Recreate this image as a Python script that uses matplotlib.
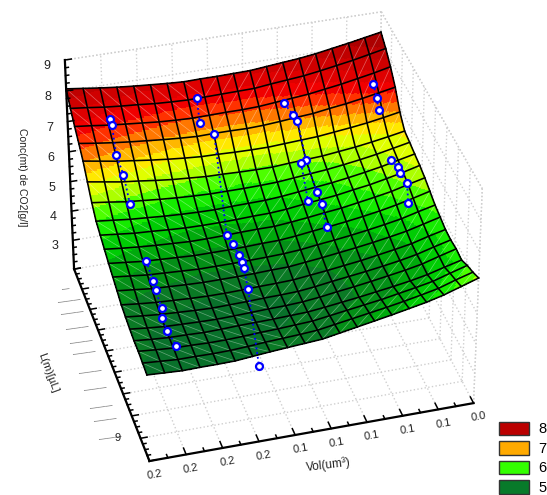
import numpy as np, matplotlib
matplotlib.use('Agg')
import matplotlib.pyplot as plt
from matplotlib.colors import LinearSegmentedColormap
from matplotlib.patches import Patch
from mpl_toolkits.mplot3d import proj3d
from mpl_toolkits.mplot3d.art3d import Line3DCollection

# ---- data ----
x_tick_values = [0.0, 0.025, 0.05, 0.075, 0.1, 0.125, 0.15, 0.175, 0.2, 0.225]
x_tick_labels = ['0.0', '0.1', '0.1', '0.1', '0.1', '0.1', '0.2', '0.2', '0.2', '0.2']
y_tick_values = [0, 1, 2, 3, 4, 5, 6, 7, 8, 9]
y_label_values = [1.0, 1.6, 2.2, 2.9, 3.6, 4.1, 5.0, 5.8, 6.6, 7.2, 8.0]
z_tick_values = [3, 4, 5, 6, 7, 8, 9]
legend_labels = ['8', '7', '6', '5']
legend_colors = ['#bb0000', '#ffaa00', '#33ff00', '#087a2a']
# surface height x100: rows run along y (back to front), columns along x (right to left)
surface_z = [
[834,824,814,805,796,789,784,779,774,773,772,772,771,774,778,782,787,793,800,807],
[809,798,787,778,769,761,756,751,745,744,743,742,741,743,746,751,755,760,767,773],
[778,766,756,746,738,730,725,720,715,713,713,712,711,713,716,721,726,731,738,744],
[740,730,720,711,704,696,692,687,683,681,682,682,681,684,688,693,698,704,711,719],
[688,678,669,662,656,650,647,644,641,641,642,644,645,649,654,660,667,674,683,692],
[655,645,636,628,622,616,613,610,606,606,607,609,610,614,618,624,631,637,646,655],
[648,637,626,617,609,602,597,592,587,585,584,584,584,586,589,593,598,603,611,618],
[640,628,616,606,597,589,583,577,571,567,566,565,563,564,566,569,573,577,583,589],
[633,619,607,596,588,579,573,567,560,556,555,553,552,552,553,556,560,563,569,575],
[623,610,596,586,577,568,562,555,549,544,544,543,541,540,540,543,546,550,555,561],
[610,596,583,572,563,555,548,542,535,530,529,527,526,526,526,529,532,535,541,547],
[596,583,569,559,550,542,535,529,522,518,516,515,514,514,514,517,520,523,529,535],
[588,574,560,550,541,533,526,519,513,507,506,504,503,503,503,505,508,511,517,523],
[579,566,551,541,532,523,516,509,503,497,495,494,492,491,491,493,496,499,504,510],
[577,563,548,537,528,520,513,506,498,492,490,489,487,486,485,487,490,493,498,504],
[580,565,549,538,529,520,512,505,497,491,488,487,485,483,482,483,485,487,492,498],
[576,562,547,536,527,519,511,504,497,491,489,487,486,485,483,482,484,485,489,494],
[591,575,558,547,537,527,519,511,503,495,492,489,487,484,482,482,484,485,489,494],
[602,586,568,556,545,535,526,517,508,499,495,492,489,485,482,481,482,482,486,490],
[616,598,580,566,555,544,534,524,514,504,500,496,492,487,482,481,481,480,483,486],
]
point_groups = [
 [[0.199,0.789,7.397],[0.199,0.947,7.299],[0.201,1.737,6.84],[0.199,2.211,6.485],[0.199,2.921,5.982]],
 [[0.199,4.737,5.347],[0.199,5.447,5.168],[0.199,5.763,5.087],[0.199,6.395,4.954],[0.201,6.789,4.92],[0.201,7.342,4.889],[0.199,7.974,4.85]],
 [[0.136,0.474,7.413],[0.138,1.105,7.013]],
 [[0.13,1.421,6.816],[0.14,4.263,5.399],[0.138,4.579,5.309],[0.136,4.974,5.204],[0.136,5.211,5.143],[0.136,5.447,5.09],[0.138,6.158,4.927],[0.137,7.10,3.02]],
 [[0.077,1.026,7.17],[0.073,1.342,6.964]],
 [[0.071,1.5,6.841],[0.071,2.368,6.13],[0.071,3.474,5.792],[0.071,3.947,5.691],[0.073,4.737,5.47]],
 [[0.075,2.447,6.092],[0.079,3.711,5.703]],
 [[0.014,1.184,7.462],[0.014,1.5,7.194],[0.014,1.737,6.937]],
 [[0.016,3.237,6.253],[0.014,3.553,6.216],[0.014,3.789,6.173],[0.012,4.184,6.113],[0.016,4.816,5.893]],
]
band_anchors = [(4.2,'#06563c'),(5,'#0a7a25'),(5.3,'#009a10'),(5.7,'#00dd00'),(5.95,'#33ff00'),(6.2,'#aaff00'),
                (6.5,'#ffff00'),(6.85,'#ffaa00'),(7.05,'#ff6600'),(7.25,'#ff2000'),(7.4,'#f00000'),(8,'#c00000'),(8.5,'#900000')]

# ---- figure and camera ----
W, H = 547, 495
plt.rcParams['font.family'] = ['Liberation Sans', 'DejaVu Sans']
fig = plt.figure(figsize=(W/100, H/100), dpi=100)
ax = fig.add_axes([0, 0, 1, 1], projection='3d', computed_zorder=False)
XM, YM, ZL, ZH = 0.225, 9.0, 2.0, 9.0
ax.set_xlim(0, XM); ax.set_ylim(0, YM); ax.set_zlim(ZL, ZH)
ax.view_init(35.837, 74.558, 0.197)
ax.set_proj_type('persp', focal_length=1.24)
ax.set_box_aspect((1.273, 1.253, 1))
ax.set_axis_off(); ax.patch.set_visible(False)
S, TX, TY = 2804.8, 268.3, H-230.8
ax.apply_aspect()
tr = ax.transData
s_now = (tr.transform((0.01, 0))-tr.transform((0, 0)))[0]/0.01
L = H*S/s_now
ax.set_position([0, 0, L/W, L/H]); ax.apply_aspect()
o = ax.transData.transform((0, 0))
ax.set_position([(TX-o[0])/W, (TY-o[1])/H, L/W, L/H]); ax.apply_aspect()
ax.M = ax.get_proj()

def px(x, y, z):
    a, b, _ = proj3d.proj_transform(np.array([x], float), np.array([y], float), np.array([z], float), ax.M)
    p = ax.transData.transform((a[0], b[0]))
    return p[0], p[1]

def label(x, y, z, dx, dy, s, **k):
    a, b = px(x, y, z)
    fig.text((a+dx)/W, (b-dy)/H, s, ha='center', va='center', **k)

Z = np.array(surface_z)/100.0
n = Z.shape[0]
xg = np.linspace(0, XM, n); yg = np.linspace(0, YM, n)

def refine(A, k=12):
    m = (n-1)*k+1
    tt = np.linspace(0, n-1, m)
    i = np.clip(tt.astype(int), 0, n-2); f = tt-i
    A2 = A[i, :]*(1-f)[:, None]+A[i+1, :]*f[:, None]
    return A2[:, i]*(1-f)+A2[:, i+1]*f

Zf = refine(Z)
Xf, Yf = np.meshgrid(np.linspace(0, XM, Zf.shape[1]), np.linspace(0, YM, Zf.shape[0]))
a0, a1 = band_anchors[0][0], band_anchors[-1][0]
cm = LinearSegmentedColormap.from_list('bands', [((a-a0)/(a1-a0), c) for a, c in band_anchors])
fc = cm((np.round(Zf/0.2)*0.2-a0)/(a1-a0))

# ---- grid on the walls and floor ----
gk = dict(color='#cfcfcf', ls=':', lw=1.0, zorder=1)
for x in x_tick_values:
    ax.plot([x, x], [0, YM], [ZL, ZL], **gk); ax.plot([x, x], [0, 0], [ZL, ZH], **gk)
for y in y_tick_values:
    ax.plot([0, XM], [y, y], [ZL, ZL], **gk); ax.plot([0, 0], [y, y], [ZL, ZH], **gk)
for z in z_tick_values:
    ax.plot([0, XM], [0, 0], [z, z], **gk); ax.plot([0, 0], [0, YM], [z, z], **gk)
ax.plot([0, XM], [0, 0], [ZH, ZH], **gk); ax.plot([0, 0], [0, YM], [ZH, ZH], **gk)
ax.plot([0, 0], [YM, YM], [ZL, ZH], **gk)

# ---- surface ----
ax.plot_surface(Xf, Yf, Zf, facecolors=fc, rstride=1, cstride=1, shade=False,
                linewidth=0, antialiased=False, zorder=2)
seg = []
for j in range(n-1):
    for i in range(n-1):
        if xg[i] > 0.55*XM:
            seg.append([(xg[i+1], yg[j], Z[j, i+1]), (xg[i], yg[j+1], Z[j+1, i])])
        else:
            seg.append([(xg[i], yg[j], Z[j, i]), (xg[i+1], yg[j+1], Z[j+1, i+1])])
ax.add_collection3d(Line3DCollection(seg, colors=[(1, 1, 1, .38)], linewidths=.5, zorder=3))
for i in range(n):
    ax.plot(xg, [yg[i]]*n, Z[i, :], color='k', lw=1.15, zorder=4)
    ax.plot([xg[i]]*n, yg, Z[:, i], color='k', lw=1.15, zorder=4)

# ---- axes ----
ak = dict(color='k', lw=1.6, zorder=5, solid_capstyle='projecting')
ax.plot([XM, XM], [0, 0], [ZL, ZH], **ak)
ax.plot([XM, XM], [0, YM], [ZL, ZL], **ak)
ax.plot([0, XM], [YM, YM], [ZL, ZL], **ak)
tk = dict(color='k', lw=1.1, zorder=5)
for q, x in enumerate(np.linspace(0, XM, 19)):
    ax.plot([x, x], [YM, YM-(0.28 if q % 2 == 0 else 0.14)], [ZL, ZL], **tk)
for y in np.linspace(0, YM, 37):
    ax.plot([XM, XM-(0.0045 if y % 1 == 0 else 0.0022)], [y, y], [ZL, ZL], **tk)
for z in np.arange(ZL, ZH+.01, .25):
    ax.plot([XM, XM-(0.0045 if z % 1 == 0 else 0.0022)], [0, 0], [z, z], **tk)

# ---- tick labels and titles ----
for x, s in zip(x_tick_values, x_tick_labels):
    label(x, YM, ZL, 5, 14, s, fontsize=8, rotation=10, color='#222222')
for z in z_tick_values:
    label(XM, 0, z, -18, 6, str(z), fontsize=9, color='#222222')
nl = len(y_label_values)
for k, y in enumerate(y_label_values):
    s = '\u2014' if k == 0 else '\u2014\u2014\u2014'
    label(XM, y, ZL, -16-14*k/(nl-1), 0, s, fontsize=5.5, rotation=8, color='#333333')
label(XM, 8.0, ZL, -23, 0, '9', fontsize=8, color='#222222')
fig.text(22/W, 1-177/H, 'Conc(mt) de CO2[g/l]', rotation=270, fontsize=7.5, ha='center', va='center', color='#222222')
fig.text(328/W, 1-465/H, 'Vol(um\u00b3)', rotation=7, fontsize=8.5, ha='center', va='center', color='#222222')
fig.text(48/W, 1-373/H, 'L(m)[\u00b5L]', rotation=-70, fontsize=8, ha='center', va='center', color='#222222')

# ---- measured points ----
for g in point_groups:
    P = np.array(g)
    ax.plot(P[:, 0], P[:, 1], P[:, 2], color='#0000ff', ls=':', lw=1.3, zorder=6, marker='o',
            mfc='w', mec='#0000ff', ms=5.0, mew=1.6)

# ---- legend ----
handles = [Patch(facecolor=c, edgecolor='#333333', linewidth=1) for c in legend_colors]
fig.legend(handles, legend_labels, loc='upper left', bbox_to_anchor=(499/W, 1-421.5/H), borderpad=0,
           borderaxespad=0, frameon=False, fontsize=10.5, handlelength=2.05, handleheight=1.05,
           labelspacing=.33, handletextpad=.65)
fig.savefig('out.png', dpi=100)
